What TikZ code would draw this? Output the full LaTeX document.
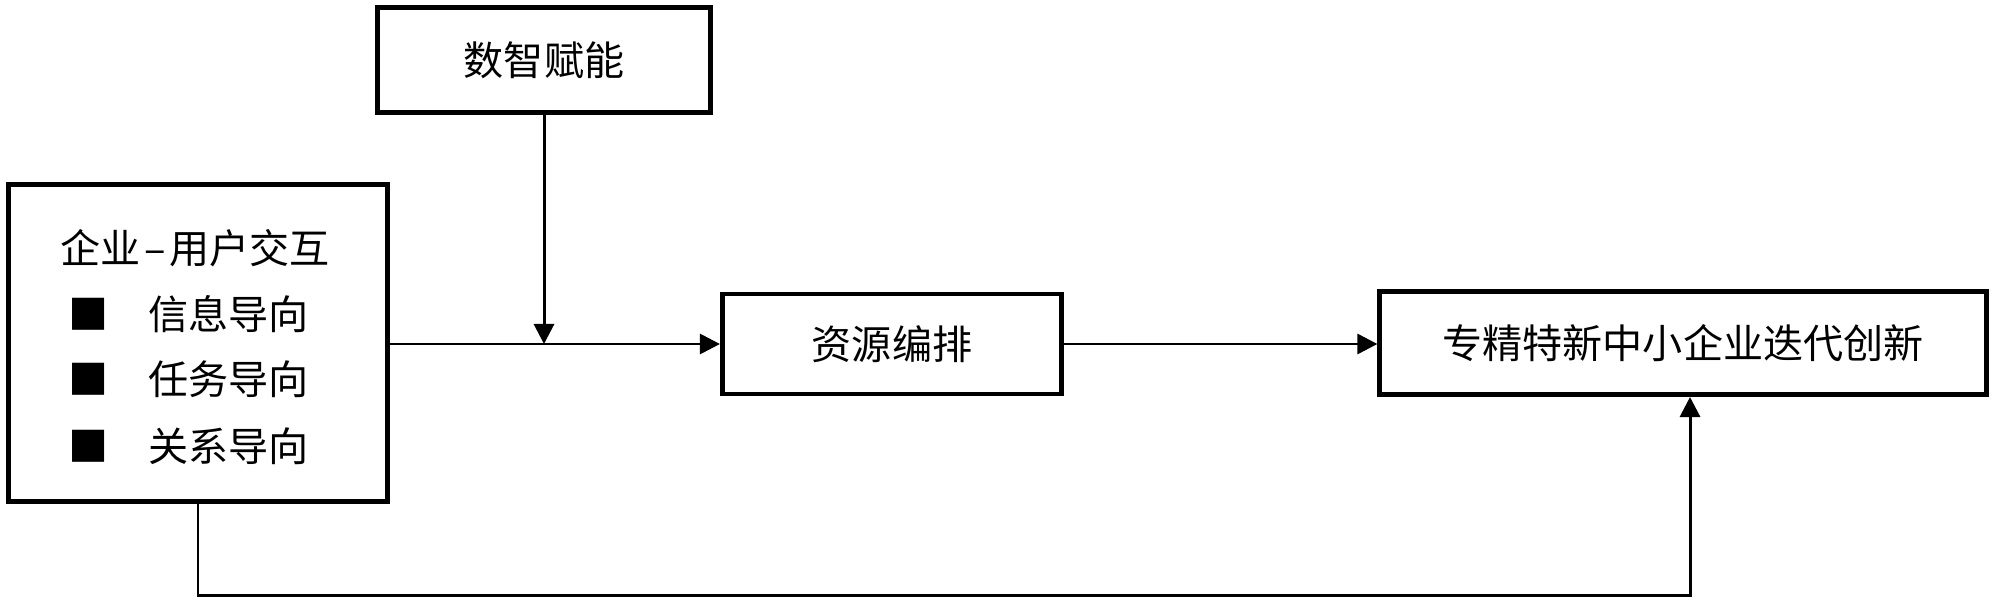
\documentclass[tikz,border=0pt]{standalone}
\usepackage{fontspec}
\setmainfont{Noto Sans CJK SC}
\usetikzlibrary{arrows.meta,calc}
\begin{document}
\begin{tikzpicture}[x=0.01cm,y=-0.01cm,
  box/.style={draw=black,line width=1.4pt,rectangle,inner sep=0pt,
    font=\fontsize{11.4pt}{14pt}\selectfont},
  txt/.style={inner sep=0pt,anchor=west,font=\fontsize{11.4pt}{14pt}\selectfont},
  conn/.style={draw=black,line width=0.85pt},
  arr/.style={conn,-{Triangle[length=0.2cm,width=0.2cm]}}]
\useasboundingbox (0,0) rectangle (2000,603);
\node[box,minimum width=3.33cm,minimum height=1.05cm] (top) at (544,60) {数智赋能};
\node[box,minimum width=3.78cm,minimum height=3.16cm] (left) at (198,343) {};
\node[box,minimum width=3.39cm,minimum height=1.00cm] (mid) at (892,344) {资源编排};
\node[box,minimum width=6.06cm,minimum height=1.03cm] (right) at (1683,343) {专精特新中小企业迭代创新};
\node[txt] (t0) at (60,248) {企业\kern1pt–\kern1pt用户交互};
\node[txt] (b1) at (68,314) {■};
\node[txt] (b2) at (68,379) {■};
\node[txt] (b3) at (68,446) {■};
\node[txt] (t1) at (148,314) {信息导向};
\node[txt] (t2) at (148,379) {任务导向};
\node[txt] (t3) at (148,446) {关系导向};
\coordinate (j) at (top.south |- mid.west);
\coordinate (c1) at (left.south |- 0,595);
\coordinate (c2) at (1690,595);
\draw[arr] (left.east |- mid.west) -- (mid.west);
\draw[arr] (top.south) -- (j);
\draw[arr] (mid.east) -- (mid.east -| right.west);
\draw[arr] (left.south) -- (c1) -- (c2) -- (c2 |- right.south);
\end{tikzpicture}
\end{document}
